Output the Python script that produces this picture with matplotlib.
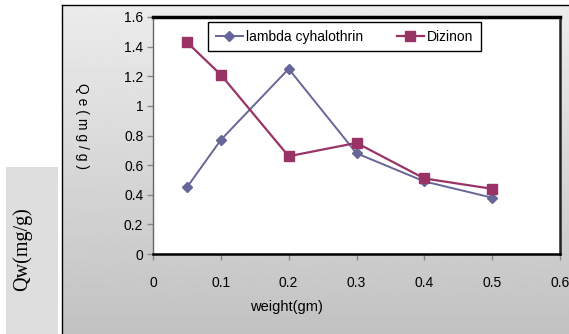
import numpy as np
import matplotlib.pyplot as plt
from matplotlib.patches import Rectangle

# adsorbent weight vs Qe for the two pesticides
weight = [0.05, 0.1, 0.2, 0.3, 0.4, 0.5]
lambda_qe = [0.45, 0.77, 1.25, 0.68, 0.49, 0.38]
dizinon_qe = [1.43, 1.21, 0.66, 0.75, 0.51, 0.44]
x_ticks = [0, 0.1, 0.2, 0.3, 0.4, 0.5, 0.6]
y_ticks = [0, 0.2, 0.4, 0.6, 0.8, 1, 1.2, 1.4, 1.6]

sans = ['Liberation Sans', 'DejaVu Sans']
W, H = 569, 334

fig = plt.figure(figsize=(W / 100, H / 100), dpi=100)
fig.patch.set_facecolor('white')

# gradient chart area background with a thin black frame
bg = fig.add_axes([62 / W, 0, 1 - 62 / W, (H - 5) / H])
grad = np.linspace(0.925, 0.76, 256).reshape(-1, 1)
bg.imshow(grad, aspect='auto', cmap='gray', vmin=0, vmax=1, extent=[0, 1, 0, 1])
bg.set_xlim(0, 1); bg.set_ylim(0, 1)
bg.set_xticks([]); bg.set_yticks([])
for s in ['right', 'bottom']:
  bg.spines[s].set_visible(False)
bg.spines['top'].set_linewidth(1.0)
bg.spines['left'].set_linewidth(1.0)

# grey side panel with its label
fig.patches.append(Rectangle((6 / W, 0), 52 / W, (H - 167) / H, transform=fig.transFigure,
                             facecolor='#dedede', edgecolor='none', zorder=1))
fig.text(22 / W, 1 - 249 / H, 'Qw(mg/g)', rotation=90, ha='center', va='center',
         family=['Liberation Serif', 'DejaVu Serif'], fontsize=14.5)

ax = fig.add_axes([153 / W, 1 - 254 / H, (560 - 153) / W, (254 - 17) / H])
ax.set_facecolor('white')
ax.plot(weight, lambda_qe, color='#666699', lw=1.4, marker='D', markersize=5.5,
        label='lambda cyhalothrin', zorder=3)
ax.plot(weight, dizinon_qe, color='#993366', lw=1.6, marker='s', markersize=7.5,
        label='Dizinon', zorder=3)

ax.set_xlim([0, 0.6])
ax.set_ylim([0, 1.6])
ax.set_xticks(x_ticks)
ax.set_xticklabels([str(t) for t in x_ticks])
ax.set_yticks(y_ticks)
ax.set_yticklabels([str(t) for t in y_ticks])
ax.tick_params(direction='out', length=4, width=1, color='#888888', labelsize=10, pad=3)
ax.tick_params(axis='x', pad=12)
for lab in ax.get_xticklabels() + ax.get_yticklabels():
  lab.set_family(sans)

ax.spines['top'].set_linewidth(2.5)
ax.spines['right'].set_linewidth(1.8)
ax.spines['right'].set_color('#222222')
ax.spines['bottom'].set_linewidth(1.8)
ax.spines['left'].set_linewidth(1.0)
ax.spines['left'].set_color('#666666')

ax.set_xlabel('weight(gm)', family=sans, fontsize=10.5)
ax.xaxis.set_label_coords(0.327, -0.195)
fig.text(82 / W, 1 - 126 / H, 'Q e ( m g / g )', rotation=270, ha='center', va='center',
         family=sans, fontsize=10)

leg = ax.legend(loc='upper left', bbox_to_anchor=(0.135, 0.979), ncol=2,
                frameon=True, fancybox=False, edgecolor='black', framealpha=1,
                prop={'family': sans, 'size': 10}, handlelength=2.0,
                columnspacing=2.4, borderpad=0.55, handletextpad=0.2, borderaxespad=0)
leg.get_frame().set_linewidth(1.0)

plt.savefig('out.png', dpi=100)
